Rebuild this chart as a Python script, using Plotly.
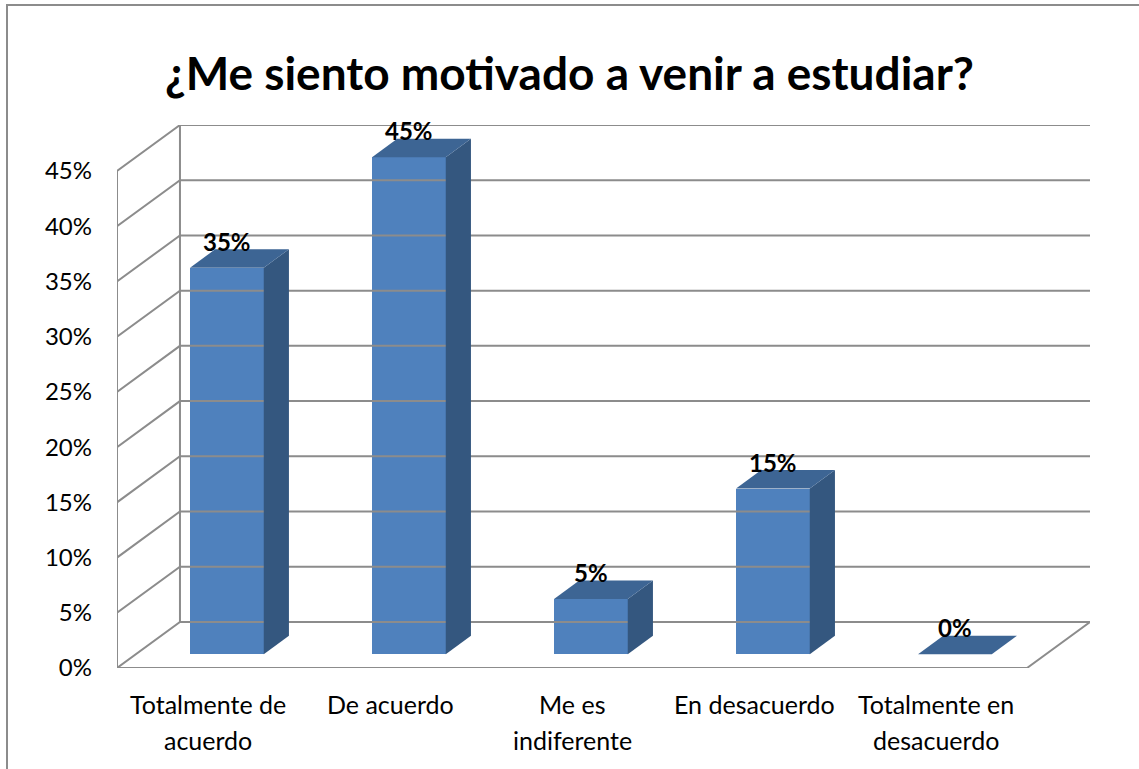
import plotly.graph_objects as go

# ---- data ----
categories = ["Totalmente de\nacuerdo", "De acuerdo", "Me es\nindiferente",
              "En desacuerdo", "Totalmente en\ndesacuerdo"]
values = [35, 45, 5, 15, 0]
y_ticks = [0, 5, 10, 15, 20, 25, 30, 35, 40, 45]
title_text = "¿Me siento motivado a venir a estudiar?"

# ---- style / geometry (3-D look) ----
FRONT = "#4F81BD"
SIDE = "#34577F"
TOP = "#3D6594"
GRID = "#8C8C8C"
FONT = "Lato"

W, H = 1139, 769
ML, MR, MT, MB = 117, 49, 125, 101
n = len(categories)
DX = 0.346          # floor depth, x units
DY = 4.17           # floor depth, y units (%)
F0, F1 = 0.30, 0.70  # bar front/back depth fractions
BW = 0.405          # bar width

x0, x1 = -0.5, n - 0.5
fig = go.Figure()

# walls: gridlines with perspective
gx, gy = [], []
for v in y_ticks:
    gx += [x0, x0 + DX, x1 + DX, None]
    gy += [v, v + DY, v + DY, None]
# front vertical axis and back wall vertical
gx += [x0, x0, None, x0 + DX, x0 + DX, None]
gy += [0, max(y_ticks), None, DY, max(y_ticks) + DY, None]
# floor front and right edges
gx += [x0, x1, x1 + DX, None]
gy += [0, 0, DY, None]
fig.add_trace(go.Scatter(x=gx, y=gy, mode="lines",
                         line=dict(color=GRID, width=2),
                         hoverinfo="skip", showlegend=False))

base = F0 * DY
ddx = (F1 - F0) * DX
ddy = (F1 - F0) * DY
xs = [i + F0 * DX for i in range(n)]

# front faces
fig.add_trace(go.Bar(x=xs, y=values, base=[base] * n, width=BW,
                     marker=dict(color=FRONT, line=dict(width=0)),
                     showlegend=False, hoverinfo="skip"))

# side and top faces
for i, v in enumerate(values):
    xl = xs[i] - BW / 2
    xr = xs[i] + BW / 2
    yt = base + v
    if v > 0:
        fig.add_trace(go.Scatter(
            x=[xr, xr + ddx, xr + ddx, xr, xr],
            y=[base, base + ddy, yt + ddy, yt, base],
            fill="toself", fillcolor=SIDE, mode="lines",
            line=dict(width=0, color=SIDE), hoverinfo="skip", showlegend=False))
    fig.add_trace(go.Scatter(
        x=[xl, xr, xr + ddx, xl + ddx, xl],
        y=[yt, yt, yt + ddy, yt + ddy, yt],
        fill="toself", fillcolor=TOP, mode="lines",
        line=dict(width=0, color=TOP), hoverinfo="skip", showlegend=False))
    fig.add_annotation(x=xs[i], y=yt + 2.4, text=f"<b>{v}%</b>", showarrow=False,
                       font=dict(family=FONT, size=24, color="black"),
                       xanchor="center", yanchor="middle")

# category labels (two lines each)
for i, c in enumerate(categories):
    for k, line in enumerate(c.split("\n")):
        fig.add_annotation(x=i, y=0, xref="x", yref="y", text=line, showarrow=False,
                           font=dict(family=FONT, size=25, color="black"),
                           xanchor="center", yanchor="middle",
                           yshift=-(36 + 36 * k))

# outer border
fig.add_shape(type="rect", xref="paper", yref="paper",
              x0=(7 - ML) / (W - ML - MR), x1=1.3,
              y0=-0.3, y1=(H - MB - 5) / (H - MT - MB),
              line=dict(color="#8C8C8C", width=2), fillcolor="rgba(0,0,0,0)")

fig.update_layout(
    width=W, height=H,
    margin=dict(l=ML, r=MR, t=MT, b=MB),
    paper_bgcolor="white", plot_bgcolor="white",
    title=dict(text=f"<b>{title_text}</b>", x=0.5, xanchor="center",
               xref="container", y=1 - 74 / H, yref="container", yanchor="middle",
               font=dict(family=FONT, size=46, color="black")),
    xaxis=dict(range=[x0, x1 + DX], showgrid=False, zeroline=False,
               showticklabels=False, showline=False, fixedrange=True),
    yaxis=dict(range=[0, max(y_ticks) + DY], tickvals=y_ticks,
               ticktext=[f"{t}%" for t in y_ticks], showgrid=False,
               zeroline=False, showline=False, ticks="",
               ticklabelstandoff=24,
               tickfont=dict(family=FONT, size=24, color="black")),
    bargap=0,
)

fig.write_html("out.html", config={"displayModeBar": False},
               post_script="document.body.style.margin='0';")
